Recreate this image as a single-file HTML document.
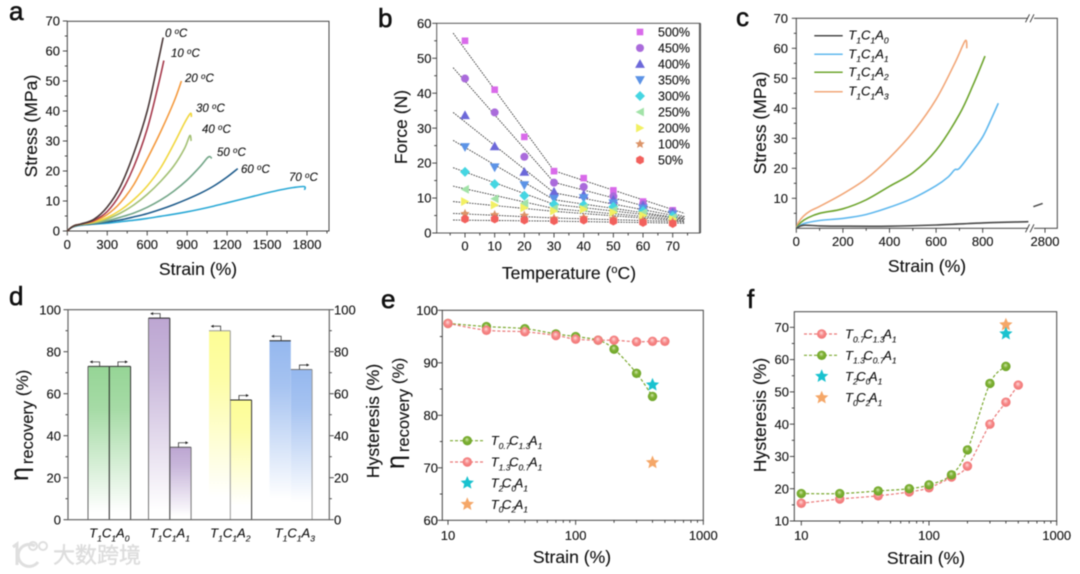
<!DOCTYPE html>
<html lang="en">
<head>
<meta charset="utf-8">
<title>Six-panel materials figure</title>
<style>
html,body{margin:0;padding:0;background:#fff;width:1080px;height:574px;overflow:hidden}
svg{display:block;filter:blur(0.5px)}
text{font-family:"Liberation Sans","Noto Sans CJK SC",sans-serif;fill:#111;stroke:#111;stroke-width:.12px}
.letter{font-size:26px;stroke:#111;stroke-width:.6px}
.title{font-size:17.6px;text-anchor:middle}
.temp{font-size:11.5px;font-style:italic}
</style>
</head>
<body>
<svg id="figure" width="1080" height="574" viewBox="0 0 1080 574" xmlns="http://www.w3.org/2000/svg">
<defs>
<radialGradient id="ball-green" cx=".5" cy=".5" r=".55" fx=".45" fy=".35"><stop offset="0" stop-color="#d4e8b0"/><stop offset=".45" stop-color="#7fb135"/><stop offset="1" stop-color="#6aa326"/></radialGradient>
<radialGradient id="ball-red" cx=".5" cy=".5" r=".55" fx=".45" fy=".35"><stop offset="0" stop-color="#ffdcdc"/><stop offset=".5" stop-color="#f68888"/><stop offset="1" stop-color="#f07272"/></radialGradient>
<linearGradient id="bar-fill-0" x1="0" y1="0" x2="0" y2="1"><stop offset="0" stop-color="#96d596"/><stop offset=".28" stop-color="#a6dba6"/><stop offset=".95" stop-color="#fff"/></linearGradient>
<linearGradient id="bar-fill-1" x1="0" y1="0" x2="0" y2="1"><stop offset="0" stop-color="#bda6d2"/><stop offset=".25" stop-color="#c8b6da"/><stop offset=".95" stop-color="#fff"/></linearGradient>
<linearGradient id="bar-fill-2" x1="0" y1="0" x2="0" y2="1"><stop offset="0" stop-color="#fdfd96"/><stop offset=".25" stop-color="#fdfda6"/><stop offset=".88" stop-color="#fff"/></linearGradient>
<linearGradient id="bar-fill-3" x1="0" y1="0" x2="0" y2="1"><stop offset="0" stop-color="#95b8ef"/><stop offset=".25" stop-color="#a6c3f1"/><stop offset=".88" stop-color="#fff"/></linearGradient>
</defs>
<rect width="1080" height="574" fill="#fff"/>

<g id="panel-a">
<text class="letter" x="9" y="20">a</text>
<text class="title" x="198" y="275">Strain (%)</text>
<text class="title" transform="rotate(-90 37 126)" x="37" y="126">Stress (MPa)</text>
<text class="temp" x="165" y="37">0 <tspan font-size="8" dy="-3">o</tspan><tspan dy="3">C</tspan></text>
<text class="temp" x="171" y="57">10 <tspan font-size="8" dy="-3">o</tspan><tspan dy="3">C</tspan></text>
<text class="temp" x="185" y="82">20 <tspan font-size="8" dy="-3">o</tspan><tspan dy="3">C</tspan></text>
<text class="temp" x="196" y="112">30 <tspan font-size="8" dy="-3">o</tspan><tspan dy="3">C</tspan></text>
<text class="temp" x="202" y="133">40 <tspan font-size="8" dy="-3">o</tspan><tspan dy="3">C</tspan></text>
<text class="temp" x="217" y="156">50 <tspan font-size="8" dy="-3">o</tspan><tspan dy="3">C</tspan></text>
<text class="temp" x="241" y="173">60 <tspan font-size="8" dy="-3">o</tspan><tspan dy="3">C</tspan></text>
<text class="temp" x="289" y="181">70 <tspan font-size="8" dy="-3">o</tspan><tspan dy="3">C</tspan></text>
</g>

<g id="panel-b">
<text class="letter" x="378" y="27">b</text>
<text class="title" x="569" y="279">Temperature (<tspan font-size="11" dy="-6">o</tspan><tspan dy="6">C)</tspan></text>
<text class="title" transform="rotate(-90 407 127)" x="407" y="127">Force (N)</text>
</g>

<g id="panel-c">
<text class="letter" x="736" y="26">c</text>
<text class="title" x="927" y="272">Strain (%)</text>
<text class="title" transform="rotate(-90 766 123)" x="766" y="123">Stress (MPa)</text>
</g>

<g id="panel-d">
<text class="letter" x="9" y="305">d</text>
<text x="28" y="481" transform="rotate(-90 28 481)" font-size="17"><tspan font-size="25">η</tspan><tspan dx="3" dy="5" font-size="16.5">recovery</tspan><tspan dy="-5"> (%)</tspan></text>
<text class="title" transform="rotate(-90 379 421)" x="379" y="421">Hysteresis (%)</text>
</g>

<g id="panel-e">
<text class="letter" x="381" y="308">e</text>
<text class="title" x="572" y="563">Strain (%)</text>
<text x="404" y="469" transform="rotate(-90 404 469)" font-size="17"><tspan font-size="25">η</tspan><tspan dx="3" dy="5" font-size="16.5">recovery</tspan><tspan dy="-5"> (%)</tspan></text>
</g>

<g id="panel-f">
<text class="letter" x="747" y="308">f</text>
<text class="title" x="926" y="564">Strain (%)</text>
<text class="title" transform="rotate(-90 766 415)" x="766" y="415">Hysteresis (%)</text>
</g>

<g id="watermark" opacity=".95">
<path d="M13 547 L17 544 L17 565" fill="none" stroke="#dedede" stroke-width="3"/>
<path d="M35 546 A11 11 0 1 0 38 562" fill="none" stroke="#dedede" stroke-width="3"/>
<circle cx="33" cy="546" r="4" fill="none" stroke="#dedede" stroke-width="2"/>
<circle cx="43" cy="546" r="4" fill="none" stroke="#dedede" stroke-width="2"/>
<text x="53" y="563" font-size="22" letter-spacing="0" style="fill:#dcdcdc;stroke:#dcdcdc;stroke-width:.4px">大数跨境</text>
</g>
</svg>

<script>
/* ---------- Panel a: stress-strain curves ---------- */
const tempsA = ['0C','10C','20C','30C','40C','50C','60C','70C'];
const curveA0  = [[0,0],[30,1.2],[60,1.9],[100,2.3],[200,3.9],[300,8],[400,15],[500,26],[600,40],[680,56],[720,64.5]];
const curveA10 = [[0,0],[30,1.2],[60,1.9],[100,2.3],[200,3.5],[300,6.5],[400,12.5],[500,21.5],[600,34],[680,48],[725,56.8]];
const curveA20 = [[0,0],[30,1.2],[60,1.9],[100,2.3],[200,3.3],[300,5.5],[400,9.5],[500,15.5],[600,24],[700,33],[800,43],[857,50]];
const curveA30 = [[0,0],[30,1.2],[60,1.9],[100,2.2],[200,3],[300,4.5],[400,7],[500,10.5],[600,15],[700,21],[800,29],[880,36],[925,39.2],[932,38]];
const curveA40 = [[0,0],[30,1.2],[60,1.8],[100,2.2],[200,2.8],[300,4],[400,6],[500,8.7],[600,12.2],[700,16.5],[800,21.7],[880,27.5],[920,31.8],[930,30]];
const curveA50 = [[0,0],[30,1.2],[60,1.7],[100,2.1],[200,2.6],[300,3.4],[400,4.6],[500,6],[600,7.9],[700,10.3],[800,13.3],[900,17],[1000,21.6],[1050,24.3],[1070,24.8],[1085,24.2]];
const curveA60 = [[0,0],[30,1.1],[60,1.6],[100,2],[200,2.4],[300,3],[400,3.7],[500,4.7],[600,5.8],[700,7.2],[800,8.8],[900,10.6],[1000,12.6],[1100,15],[1200,18],[1280,20.8]];
const curveA70 = [[0,0],[30,1.1],[60,1.6],[100,1.9],[200,2.3],[300,2.6],[400,3.1],[500,3.6],[600,4.2],[700,4.9],[800,5.6],[900,6.4],[1000,7.3],[1100,8.3],[1200,9.4],[1300,10.5],[1400,11.6],[1500,12.7],[1600,13.7],[1700,14.5],[1780,14.8],[1782,13.7]];
const xTicksA = [0,300,600,900,1200,1500,1800];
const yTicksA = [0,10,20,30,40,50,60,70];

/* ---------- Panel b: force vs temperature ---------- */
const temperaturesB = [0,10,20,30,40,50,60,70];
const strainLabelsB = ['500%','450%','400%','350%','300%','250%','200%','100%','50%'];
const force500 = [55,41,27.5,17.7,15.7,12.2,9,6.5];
const force450 = [44.2,34.5,21.8,14.4,13.2,10.5,8.2,6.2];
const force400 = [33.7,24.8,17.5,11.8,11,9.5,7.8,5.8];
const force350 = [24.6,18.8,13.7,9.8,10,8.5,7,5.3];
const force300 = [17.5,14,10.7,8.2,8,7.5,6.3,4.8];
const force250 = [12.5,9.8,8.5,7,7.2,6.5,5.8,4.4];
const force200 = [9,8,7.2,6.3,6.8,5.9,5,4];
const force100 = [5.5,5.2,5,4.2,4.4,4.1,3.6,3.2];
const force50  = [4,4,3.7,3.5,3.7,3.4,3,2.7];
const fitTempsB = [-4,30,74];
const fit500 = [57.2,17.8,5.6];
const fit450 = [47.3,14.5,4.7];
const fit400 = [34.5,11.5,4.4];
const fit350 = [26.5,9.5,4.1];
const fit300 = [18.7,8.2,4];
const fit250 = [13.4,7,3.7];
const fit200 = [9,6.2,3.4];
const fit100 = [5.6,4.3,3.2];
const fit50  = [3.7,3.4,2.8];
const xTicksB = [0,10,20,30,40,50,60,70];
const yTicksB = [0,10,20,30,40,50,60];

/* ---------- Panel c: composition stress-strain ---------- */
const curveC0 = [[0,0],[30,1],[100,.8],[200,.7],[400,.7],[600,1.1],[800,1.8],[996,2.2]];
const curveC0Tail = [[2750,7.2],[2790,8.3]];
const curveC1 = [[0,0],[30,1.5],[100,2.6],[200,3.3],[300,4.6],[400,7],[500,10],[600,14.2],[650,17],[680,19.5],[700,20],[750,25],[800,30.5],[840,37],[867,41.7]];
const curveC2 = [[0,0],[20,2],[50,3.5],[100,5],[200,6.5],[300,9.5],[400,14],[500,18.5],[600,26],[700,38],[760,48],[810,57.4]];
const curveC3 = [[0,0],[10,2],[30,4],[60,5.8],[100,7.3],[200,11.5],[300,16.5],[400,23.5],[500,32],[600,43],[680,55],[725,62.5],[732,60]];
const xTicksC = [0,200,400,600,800,2800];
const yTicksC = [10,20,30,40,50,60,70];
const seriesNamesC = [['T','1','C','1','A','0'],['T','1','C','1','A','1'],['T','1','C','1','A','2'],['T','1','C','1','A','3']];

/* ---------- Panel d: bars ---------- */
const categoriesD = [['T','1','C','1','A','0'],['T','1','C','1','A','1'],['T','1','C','1','A','2'],['T','1','C','1','A','3']];
const recoveryD = [73,96,90,85.2];
const hysteresisD = [73,34.5,57,71.5];
const yTicksD = [0,20,40,60,80,100];

/* ---------- Panels e / f: log-x series ---------- */
const strainLog = [10,20,40,70,100,150,200,300,400,500];
const recoveryGreen = [97.5,96.9,96.5,95.5,95,94.3,92.6,88,83.6];
const recoveryRed = [97.5,96.2,95.9,95.2,94.5,94.3,94.3,94,94.1,94.1];
const recoveryStarStrain = [400,400];
const recoveryStars = [85.8,71];
const hysteresisRed = [15.5,16.8,17.8,19,20.3,23.6,27,40,46.8,52.1];
const hysteresisGreen = [18.5,18.5,19.3,20,21.2,24.3,32,52.6,57.9];
const hysteresisStarStrain = [400,400];
const hysteresisStars = [70.8,68];
const xTicksLog = [10,100,1000];
const yTicksE = [60,70,80,90,100];
const yTicksF = [10,20,30,40,50,60,70];

/* ---------- Helpers ---------- */
const NS = 'http://www.w3.org/2000/svg';
const INK = '#333';
function mk(tag, attrs, parent){
  const el = document.createElementNS(NS, tag);
  for (const k in attrs) el.setAttribute(k, attrs[k]);
  parent.appendChild(el);
  return el;
}
function smoothPath(pts){
  let d = 'M' + pts[0][0].toFixed(2) + ' ' + pts[0][1].toFixed(2);
  for (let i = 0; i < pts.length - 1; i++){
    const p0 = pts[Math.max(0,i-1)], p1 = pts[i], p2 = pts[i+1], p3 = pts[Math.min(pts.length-1,i+2)];
    const c1x = p1[0] + (p2[0]-p0[0])/6, c1y = p1[1] + (p2[1]-p0[1])/6;
    const c2x = p2[0] - (p3[0]-p1[0])/6, c2y = p2[1] - (p3[1]-p1[1])/6;
    d += 'C' + c1x.toFixed(2)+' '+c1y.toFixed(2)+' '+c2x.toFixed(2)+' '+c2y.toFixed(2)+' '+p2[0].toFixed(2)+' '+p2[1].toFixed(2);
  }
  return d;
}
function frame(g, L, T, R, B, color, width){
  const el = mk('rect',{x:L,y:T,width:R-L,height:B-T,fill:'none',stroke:color||INK,'stroke-width':width||1},g);
  
  
}
function tickX(g, x, y, len, text, labelY){
  const el = mk('line',{x1:x,x2:x,y1:y,y2:y+len,stroke:INK,'stroke-width':.9},g);
  
  
  if (text !== null){
    const t = mk('text',{x:x,y:labelY,'font-size':13,'text-anchor':'middle'},g);
    t.textContent = text;
    
    
  }
}
function tickY(g, x, y, len, text, labelX, anchor){
  const el = mk('line',{x1:x,x2:x-len,y1:y,y2:y,stroke:INK,'stroke-width':.9},g);
  
  
  if (text !== null){
    const t = mk('text',{x:labelX,y:y+4.6,'font-size':13,'text-anchor':anchor||'end'},g);
    t.textContent = text;
    
    
  }
}
function formula(parent, x, y, parts, size, anchor, tight){
  const t = mk('text',{x:x,y:y,'font-size':size,'font-style':'italic','text-anchor':anchor||'start'},parent);
  let shift = 0;
  for (let i = 0; i < parts.length; i += 2){
    const main = mk('tspan',{dy:shift, dx:(tight && i>0) ? -1.5 : 0},t);
    main.textContent = parts[i];
    const sub = mk('tspan',{'font-size':size*.66,dy:size*.3},t);
    sub.textContent = parts[i+1];
    shift = -size*.3;
  }
  return t;
}
function starPoints(cx, cy, r){
  const p = [];
  for (let i = 0; i < 10; i++){
    const a = -Math.PI/2 + i*Math.PI/5, q = i%2 ? r*.46 : r;
    p.push((cx+q*Math.cos(a)).toFixed(2)+','+(cy+q*Math.sin(a)).toFixed(2));
  }
  return p.join(' ');
}
function logTicks(g, scale, y0, labelY){
  for (const v of xTicksLog) tickX(g, scale(v), y0, 4.5, String(v), labelY);
  for (const decade of [10,100]) for (let m = 2; m <= 9; m++) tickX(g, scale(decade*m), y0, 2.5, null, 0);
}
function sphere(g, cx, cy, fill){
  const c = mk('circle',{cx:cx,cy:cy,r:4.7,fill:fill},g);
  return c;
}

/* ---------- Panel a ---------- */
(function(){
  const g = document.getElementById('panel-a');
  const L=67.3,R=329,T=21.3,B=231;
  const x = v => L + v*239.7/1800;
  const y = v => B - v*3;
  frame(g,L,T,R,B,'#444',1);
  xTicksA.forEach(v => tickX(g,x(v),B,4.5,String(v),249));
  xTicksA.forEach(v => { if (x(v+150) < R) tickX(g,x(v+150),B,2.5,null,0); });
  yTicksA.forEach(v => tickY(g,L,y(v),4.5,String(v),60));
  yTicksA.slice(0,-1).forEach(v => tickY(g,L,y(v+5),2.5,null,0));
  const curves = [curveA70,curveA60,curveA50,curveA40,curveA30,curveA20,curveA10,curveA0];
  const colors = ['#2aa9d6','#1f5c8c','#73a688','#a3c074','#f1d73f','#f49a3e','#a63a4c','#4a3838'];
  const names = tempsA.slice().reverse();
  curves.forEach((c,i) => {
    const el = mk('path',{d:smoothPath(c.map(p=>[x(p[0]),y(p[1])])),fill:'none',stroke:colors[i],'stroke-width':1.6},g);
    
    
  });
})();

/* ---------- Panel b ---------- */
(function(){
  const g = document.getElementById('panel-b');
  const L=436.7,R=700,T=23.3,B=233;
  const x = v => 465 + v*207.7/70;
  const y = v => B - v*209.7/60;
  mk('line',{x1:R,x2:R,y1:T,y2:B,stroke:'#8a8a8a','stroke-width':2.4},g);
  frame(g,L,T,R,B,'#444',.9);
  xTicksB.forEach(v => tickX(g,x(v),B,4.5,String(v),250.5));
  xTicksB.forEach(v => { if (x(v+5) < R) tickX(g,x(v+5),B,2.5,null,0); });
  tickX(g,x(-5),B,2.5,null,0);
  yTicksB.forEach(v => tickY(g,L,y(v),4.5,String(v),431.5));
  yTicksB.slice(0,-1).forEach(v => tickY(g,L,y(v+5),2.5,null,0));
  const fits = [fit500,fit450,fit400,fit350,fit300,fit250,fit200,fit100,fit50];
  const series = [force500,force450,force400,force350,force300,force250,force200,force100,force50];
  const colors = ['#d96aea','#aa6bdb','#6c68d9','#5c93e6','#45d6e2','#a2e3a8','#f2f062','#dc9468','#f2605c'];
  const shapes = ['square','circle','up','down','diamond','left','right','star','hex'];
  fits.forEach(f => {
    const el = mk('polyline',{points:fitTempsB.map((t,i)=>x(t)+','+y(f[i])).join(' '),fill:'none',stroke:'#222','stroke-width':.8,'stroke-dasharray':'1.6 1.1'},g);
    
    
  });
  function marker(shape, cx, cy, fill){
    const s = 4.4;
    const poly = { up:[[0,-s-.5],[s+.5,s-.5],[-s-.5,s-.5]], down:[[0,s+.5],[s+.5,-s+.5],[-s-.5,-s+.5]],
      left:[[-s,0],[s-.5,-s],[s-.5,s]], right:[[s,0],[-s+.5,-s],[-s+.5,s]], diamond:[[0,-s-.6],[s+.6,0],[0,s+.6],[-s-.6,0]],
      hex:[[0,-s],[s*.87,-s*.5],[s*.87,s*.5],[0,s],[-s*.87,s*.5],[-s*.87,-s*.5]] };
    if (shape === 'square') return mk('rect',{x:cx-3.3,y:cy-3.3,width:6.6,height:6.6,fill:fill},g);
    if (shape === 'circle') return mk('circle',{cx:cx,cy:cy,r:4,fill:fill},g);
    if (shape === 'star') return mk('polygon',{points:starPoints(cx,cy,5),fill:fill},g);
    return mk('polygon',{points:poly[shape].map(p=>(cx+p[0])+','+(cy+p[1])).join(' '),fill:fill},g);
  }
  series.forEach((vals,i) => {
    vals.forEach((v,j) => {
      const el = marker(shapes[i],x(temperaturesB[j]),y(v),colors[i]);
      
      
    });
  });
  strainLabelsB.forEach((lab,i) => {
    const ly = 32 + i*16;
    const el = marker(shapes[i],640,ly,colors[i]);
    
    
    const t = mk('text',{x:658,y:ly+4.5,'font-size':12.5},g);
    t.textContent = lab;
    
    
  });
})();

/* ---------- Panel c ---------- */
(function(){
  const g = document.getElementById('panel-c');
  const L=796.3,R=1057.3,T=18.3,B=228.3;
  const scaleX = 186.4/800;
  const x = v => v <= 1200 ? L + v*scaleX : 1045 + (v-2800)*scaleX;
  const y = v => B - v*3;
  frame(g,L,T,R,B,'#444',1);
  xTicksC.forEach(v => tickX(g,x(v),B,4.5,String(v),246));
  [100,300,500,700].forEach(v => tickX(g,x(v),B,2.5,null,0));
  yTicksC.forEach(v => tickY(g,L,y(v),4.5,String(v),788));
  [5,15,25,35,45,55,65].forEach(v => tickY(g,L,y(v),2.5,null,0));
  const curves = [curveC3,curveC2,curveC1,curveC0];
  const colors = ['#f2a778','#6ea52e','#5fb8ee','#4a4a4a'];
  const names = ['T1C1A3','T1C1A2','T1C1A1','T1C1A0'];
  curves.forEach((c,i) => {
    const el = mk('path',{d:smoothPath(c.map(p=>[x(p[0]),y(p[1])])),fill:'none',stroke:colors[i],'stroke-width':1.6},g);
    
    
  });
  const tail = mk('path',{d:smoothPath(curveC0Tail.map(p=>[x(p[0]),y(p[1])])),fill:'none',stroke:'#4a4a4a','stroke-width':1.5},g);
  
  
  [T,B].forEach(yb => {
    const gap = mk('rect',{x:1028,y:yb-2,width:6,height:4,fill:'#fff'},g);
    
    
    [1027.5,1032].forEach(xb => {
      const s = mk('line',{x1:xb-2,x2:xb+2,y1:yb+4,y2:yb-4,stroke:'#333','stroke-width':.9},g);
      
      
    });
  });
  const legendColors = ['#4a4a4a','#5fb8ee','#6ea52e','#f2a778'];
  const legendY = [35.7,54.3,72.3,91.7];
  seriesNamesC.forEach((parts,i) => {
    const l = mk('line',{x1:814.3,x2:842.7,y1:legendY[i],y2:legendY[i],stroke:legendColors[i],'stroke-width':1.5},g);
    
    
    const t = formula(g,848.3,legendY[i]+4,parts,13);
    
    
  });
})();

/* ---------- Panel d ---------- */
(function(){
  const g = document.getElementById('panel-d');
  const L=68,R=329.3,T=309.7,B=519.7;
  const y = v => B - v*2.1;
  const center = i => 109.3 + i*60.5;
  const W = 21.3;
  yTicksD.forEach(v => tickY(g,L,y(v),4.5,String(v),61));
  yTicksD.slice(0,-1).forEach(v => tickY(g,L,y(v+10),2.5,null,0));
  yTicksD.forEach(v => {
    const el = mk('line',{x1:R,x2:R+4.5,y1:y(v),y2:y(v),stroke:INK,'stroke-width':.9},g);
    
    
    const t = mk('text',{x:334,y:y(v)+4.6,'font-size':13},g);
    t.textContent = String(v);
    
    
  });
  yTicksD.slice(0,-1).forEach(v => {
    const el = mk('line',{x1:R,x2:R+2.5,y1:y(v+10),y2:y(v+10),stroke:INK,'stroke-width':.9},g);
    
    
  });
  const edge = [
    {o:'#444',l:'#666',m:'#222',r:'#333',t1:'#333',t2:'#333'},
    {o:'#444',l:'#777',m:'#333',r:'#777',t1:'#222',t2:'#555'},
    {o:'#444',l:'none',m:'#999',r:'#333',t1:'#999',t2:'#222'},
    {o:'#444',l:'none',m:'none',r:'#999',t1:'#222',t2:'#777'}
  ];
  categoriesD.forEach((parts,i) => {
    const c = center(i), e = edge[i];
    const v1 = recoveryD[i], v2 = hysteresisD[i];
    const b1 = mk('rect',{x:c-W,y:y(v1),width:W,height:B-y(v1),fill:'url(#bar-fill-'+i+')'},g);
    
    
    const b2 = mk('rect',{x:c,y:y(v2),width:W,height:B-y(v2),fill:'url(#bar-fill-'+i+')'},g);
    
    
    const d = [
      [c-W,y(v1),c-W,B,e.l],[c,Math.min(y(v1),y(v2)),c,B,e.m],[c+W,y(v2),c+W,B,e.r],
      [c-W,y(v1),c,y(v1),e.t1],[c,y(v2),c+W,y(v2),e.t2]
    ];
    d.forEach(s => {
      if (s[4] === 'none') return;
      const el = mk('line',{x1:s[0],y1:s[1],x2:s[2],y2:s[3],stroke:s[4],'stroke-width':1},g);
      
      
    });
    /* direction arrows */
    const ax = c - W/2 + 1, ay = y(v1);
    const a1 = mk('path',{d:'M'+ax+' '+ay+'V'+(ay-4.5)+'H'+(ax-7),fill:'none',stroke:'#333','stroke-width':.8},g);
    
    
    const h1 = mk('polygon',{points:(ax-10)+','+(ay-4.5)+' '+(ax-7)+','+(ay-6)+' '+(ax-7)+','+(ay-3),fill:'#222'},g);
    
    
    const bx = c + W/2 - 2, by = y(v2);
    const a2 = mk('path',{d:'M'+bx+' '+by+'V'+(by-4.5)+'H'+(bx+7),fill:'none',stroke:'#333','stroke-width':.8},g);
    
    
    const h2 = mk('polygon',{points:(bx+10)+','+(by-4.5)+' '+(bx+7)+','+(by-6)+' '+(bx+7)+','+(by-3),fill:'#222'},g);
    
    
    const lab = formula(g,c + (i===3?4:0),537.5,parts,13,'middle');
    
    
  });
  frame(g,L,T,R,B,'#666',1.2);
})();

/* ---------- Panel e ---------- */
(function(){
  const g = document.getElementById('panel-e');
  const L=442.3,R=703.3,T=310.3,B=520.3;
  const x = v => 448 + (Math.log10(v)-1)*127.65;
  const y = v => B - (v-60)*5.25;
  frame(g,L,T,R,B,'#444',1);
  logTicks(g,x,B,540);
  yTicksE.forEach(v => tickY(g,L,y(v),4.5,String(v),438));
  yTicksE.slice(0,-1).forEach(v => tickY(g,L,y(v+5),2.5,null,0));
  const gl = mk('path',{d:smoothPath(recoveryGreen.map((v,i)=>[x(strainLog[i]),y(v)])),fill:'none',stroke:'#7aa82e','stroke-width':1.2,'stroke-dasharray':'3 2'},g);
  
  
  const rl = mk('path',{d:smoothPath(recoveryRed.map((v,i)=>[x(strainLog[i]),y(v)])),fill:'none',stroke:'#ea7878','stroke-width':1.2,'stroke-dasharray':'3 2'},g);
  
  
  recoveryGreen.forEach((v,i) => {
    const c = sphere(g,x(strainLog[i]),y(v),'url(#ball-green)');
    
    
  });
  recoveryRed.forEach((v,i) => {
    const c = sphere(g,x(strainLog[i]),y(v),'url(#ball-red)');
    
    
  });
  const starColors = ['#19c2cf','#f5a768'];
  recoveryStars.forEach((v,i) => {
    const s = mk('polygon',{points:starPoints(x(recoveryStarStrain[i]),y(v),7),fill:starColors[i]},g);
    
    
  });
  const names = [['T','0.7','C','1.3','A','1'],['T','1.3','C','0.7','A','1'],['T','2','C','0','A','1'],['T','0','C','2','A','1']];
  const ly = [440.7,462,483,504.3];
  [0,1].forEach(i => {
    const l = mk('line',{x1:450,x2:483,y1:ly[i],y2:ly[i],stroke:i?'#ea7878':'#7aa82e','stroke-width':1.2,'stroke-dasharray':'3 2'},g);
    
    
    const c = sphere(g,467.3,ly[i],i?'url(#ball-red)':'url(#ball-green)');
    
    
  });
  [2,3].forEach(i => {
    const s = mk('polygon',{points:starPoints(467.3,ly[i],7),fill:starColors[i-2]},g);
    
    
  });
  names.forEach((p,i) => {
    const t = formula(g,490.7,ly[i]+4.5,p,13,'start',true);
    
    
  });
})();

/* ---------- Panel f ---------- */
(function(){
  const g = document.getElementById('panel-f');
  const L=794.3,R=1056.7,T=311.7,B=521;
  const x = v => 801.3 + (Math.log10(v)-1)*127.7;
  const y = v => B - (v-10)*3.228;
  frame(g,L,T,R,B,'#444',1);
  logTicks(g,x,B,540);
  yTicksF.forEach(v => tickY(g,L,y(v),4.5,String(v),789));
  yTicksF.slice(0,-1).forEach(v => tickY(g,L,y(v+5),2.5,null,0));
  const rl = mk('path',{d:smoothPath(hysteresisRed.map((v,i)=>[x(strainLog[i]),y(v)])),fill:'none',stroke:'#ea7878','stroke-width':1.2,'stroke-dasharray':'3 2'},g);
  
  
  const gl = mk('path',{d:smoothPath(hysteresisGreen.map((v,i)=>[x(strainLog[i]),y(v)])),fill:'none',stroke:'#7aa82e','stroke-width':1.2,'stroke-dasharray':'3 2'},g);
  
  
  hysteresisRed.forEach((v,i) => {
    const c = sphere(g,x(strainLog[i]),y(v),'url(#ball-red)');
    
    
  });
  hysteresisGreen.forEach((v,i) => {
    const c = sphere(g,x(strainLog[i]),y(v),'url(#ball-green)');
    
    
  });
  const starColors = ['#f5a768','#19c2cf'];
  hysteresisStars.forEach((v,i) => {
    const s = mk('polygon',{points:starPoints(x(hysteresisStarStrain[i]),y(v),7),fill:starColors[i]},g);
    
    
  });
  const names = [['T','0.7','C','1.3','A','1'],['T','1.3','C','0.7','A','1'],['T','2','C','0','A','1'],['T','0','C','2','A','1']];
  const ly = [334,355.3,376.3,397.7];
  [0,1].forEach(i => {
    const l = mk('line',{x1:804,x2:837.3,y1:ly[i],y2:ly[i],stroke:i?'#7aa82e':'#ea7878','stroke-width':1.2,'stroke-dasharray':'3 2'},g);
    
    
    const c = sphere(g,821.7,ly[i],i?'url(#ball-green)':'url(#ball-red)');
    
    
  });
  [2,3].forEach(i => {
    const s = mk('polygon',{points:starPoints(821.7,ly[i],7),fill:i===2?'#19c2cf':'#f5a768'},g);
    
    
  });
  names.forEach((p,i) => {
    const t = formula(g,845,ly[i]+4.5,p,13,'start',true);
    
    
  });
})();
</script>
</body>
</html>
